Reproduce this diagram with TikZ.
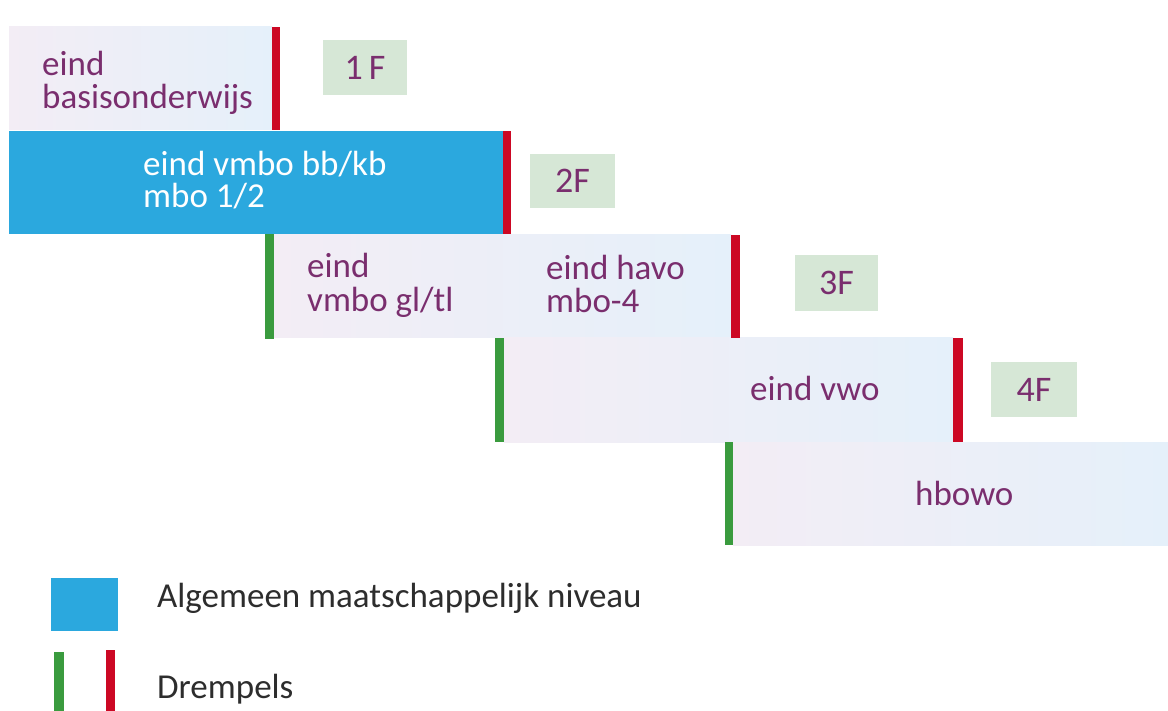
\documentclass[tikz,border=0pt]{standalone}
\usepackage{fontspec}
\setmainfont{Carlito}
\definecolor{txtpurple}{RGB}{122,46,110}
\definecolor{bandL}{RGB}{243,237,245}
\definecolor{bandR}{RGB}{229,240,250}
\definecolor{mainblue}{RGB}{43,168,222}
\definecolor{barred}{RGB}{204,8,36}
\definecolor{bargreen}{RGB}{58,155,62}
\definecolor{flevel}{RGB}{214,231,214}
\definecolor{legtxt}{RGB}{45,45,45}
\begin{document}
\begin{tikzpicture}[x=1pt,y=-1pt,
  band/.style={left color=bandL, right color=bandR, draw=none},
  redbar/.style={fill=barred, draw=none},
  greenbar/.style={fill=bargreen, draw=none},
  lbl/.style={anchor=base west, inner sep=0pt, text=txtpurple, font=\fontsize{35}{35}\selectfont},
  wlbl/.style={lbl, text=white},
  leglbl/.style={lbl, text=legtxt},
  fbox/.style={fill=flevel, draw=none, inner sep=0pt, text=txtpurple, font=\fontsize{36}{36}\selectfont}
]
\useasboundingbox (0,0) rectangle (1168,711);
\fill[white] (0,0) rectangle (1168,711);

% bands
\fill[band] (9,27) rectangle (272,130);
\fill[mainblue] (9,131) rectangle (503,234);
\fill[band] (274,235) rectangle (731,338);
\fill[band] (504,338) rectangle (953,442);
\fill[band] (733,442) rectangle (1168,545);

% thresholds
\fill[redbar] (272,27) rectangle (280,130);
\fill[redbar] (503,131) rectangle (511,234);
\fill[redbar] (731,235) rectangle (740,338);
\fill[redbar] (953,338) rectangle (963,442);
\fill[greenbar] (265,234) rectangle (274,339);
\fill[greenbar] (495,338) rectangle (504,442);
\fill[greenbar] (725,442) rectangle (733,545);

% labels in bands
\node[lbl] (b1a) at (42,76) {eind};
\node[lbl] (b1b) at (42,109) {basisonderwijs};
\node[wlbl] (b2a) at (143,176) {eind vmbo bb/kb};
\node[wlbl] (b2b) at (143,208) {mbo 1/2};
\node[lbl] (b3a) at (307,278) {eind};
\node[lbl] (b3b) at (307,312) {vmbo gl/tl};
\node[lbl] (b3c) at (546,280) {eind havo};
\node[lbl] (b3d) at (546,313) {mbo-4};
\node[lbl] (b4a) at (750,400) {eind vwo};
\node[lbl] (b5a) at (915,505) {hbowo};

% F levels
\node[fbox, minimum width=84pt, minimum height=55pt] (f1) at (365,67.5) {1\,F};
\node[fbox, minimum width=85pt, minimum height=54pt] (f2) at (572.5,181) {2F};
\node[fbox, minimum width=83pt, minimum height=56pt] (f3) at (836.5,283) {3F};
\node[fbox, minimum width=86pt, minimum height=55pt] (f4) at (1034,389.5) {4F};

% legend
\fill[mainblue] (51,578) rectangle (118,631);
\fill[greenbar] (54,652) rectangle (64,711);
\fill[redbar] (106,650) rectangle (115,711);
\node[leglbl] (leg1) at (157,607) {Algemeen maatschappelijk niveau};
\node[leglbl] (leg2) at (157,698) {Drempels};
\end{tikzpicture}
\end{document}
